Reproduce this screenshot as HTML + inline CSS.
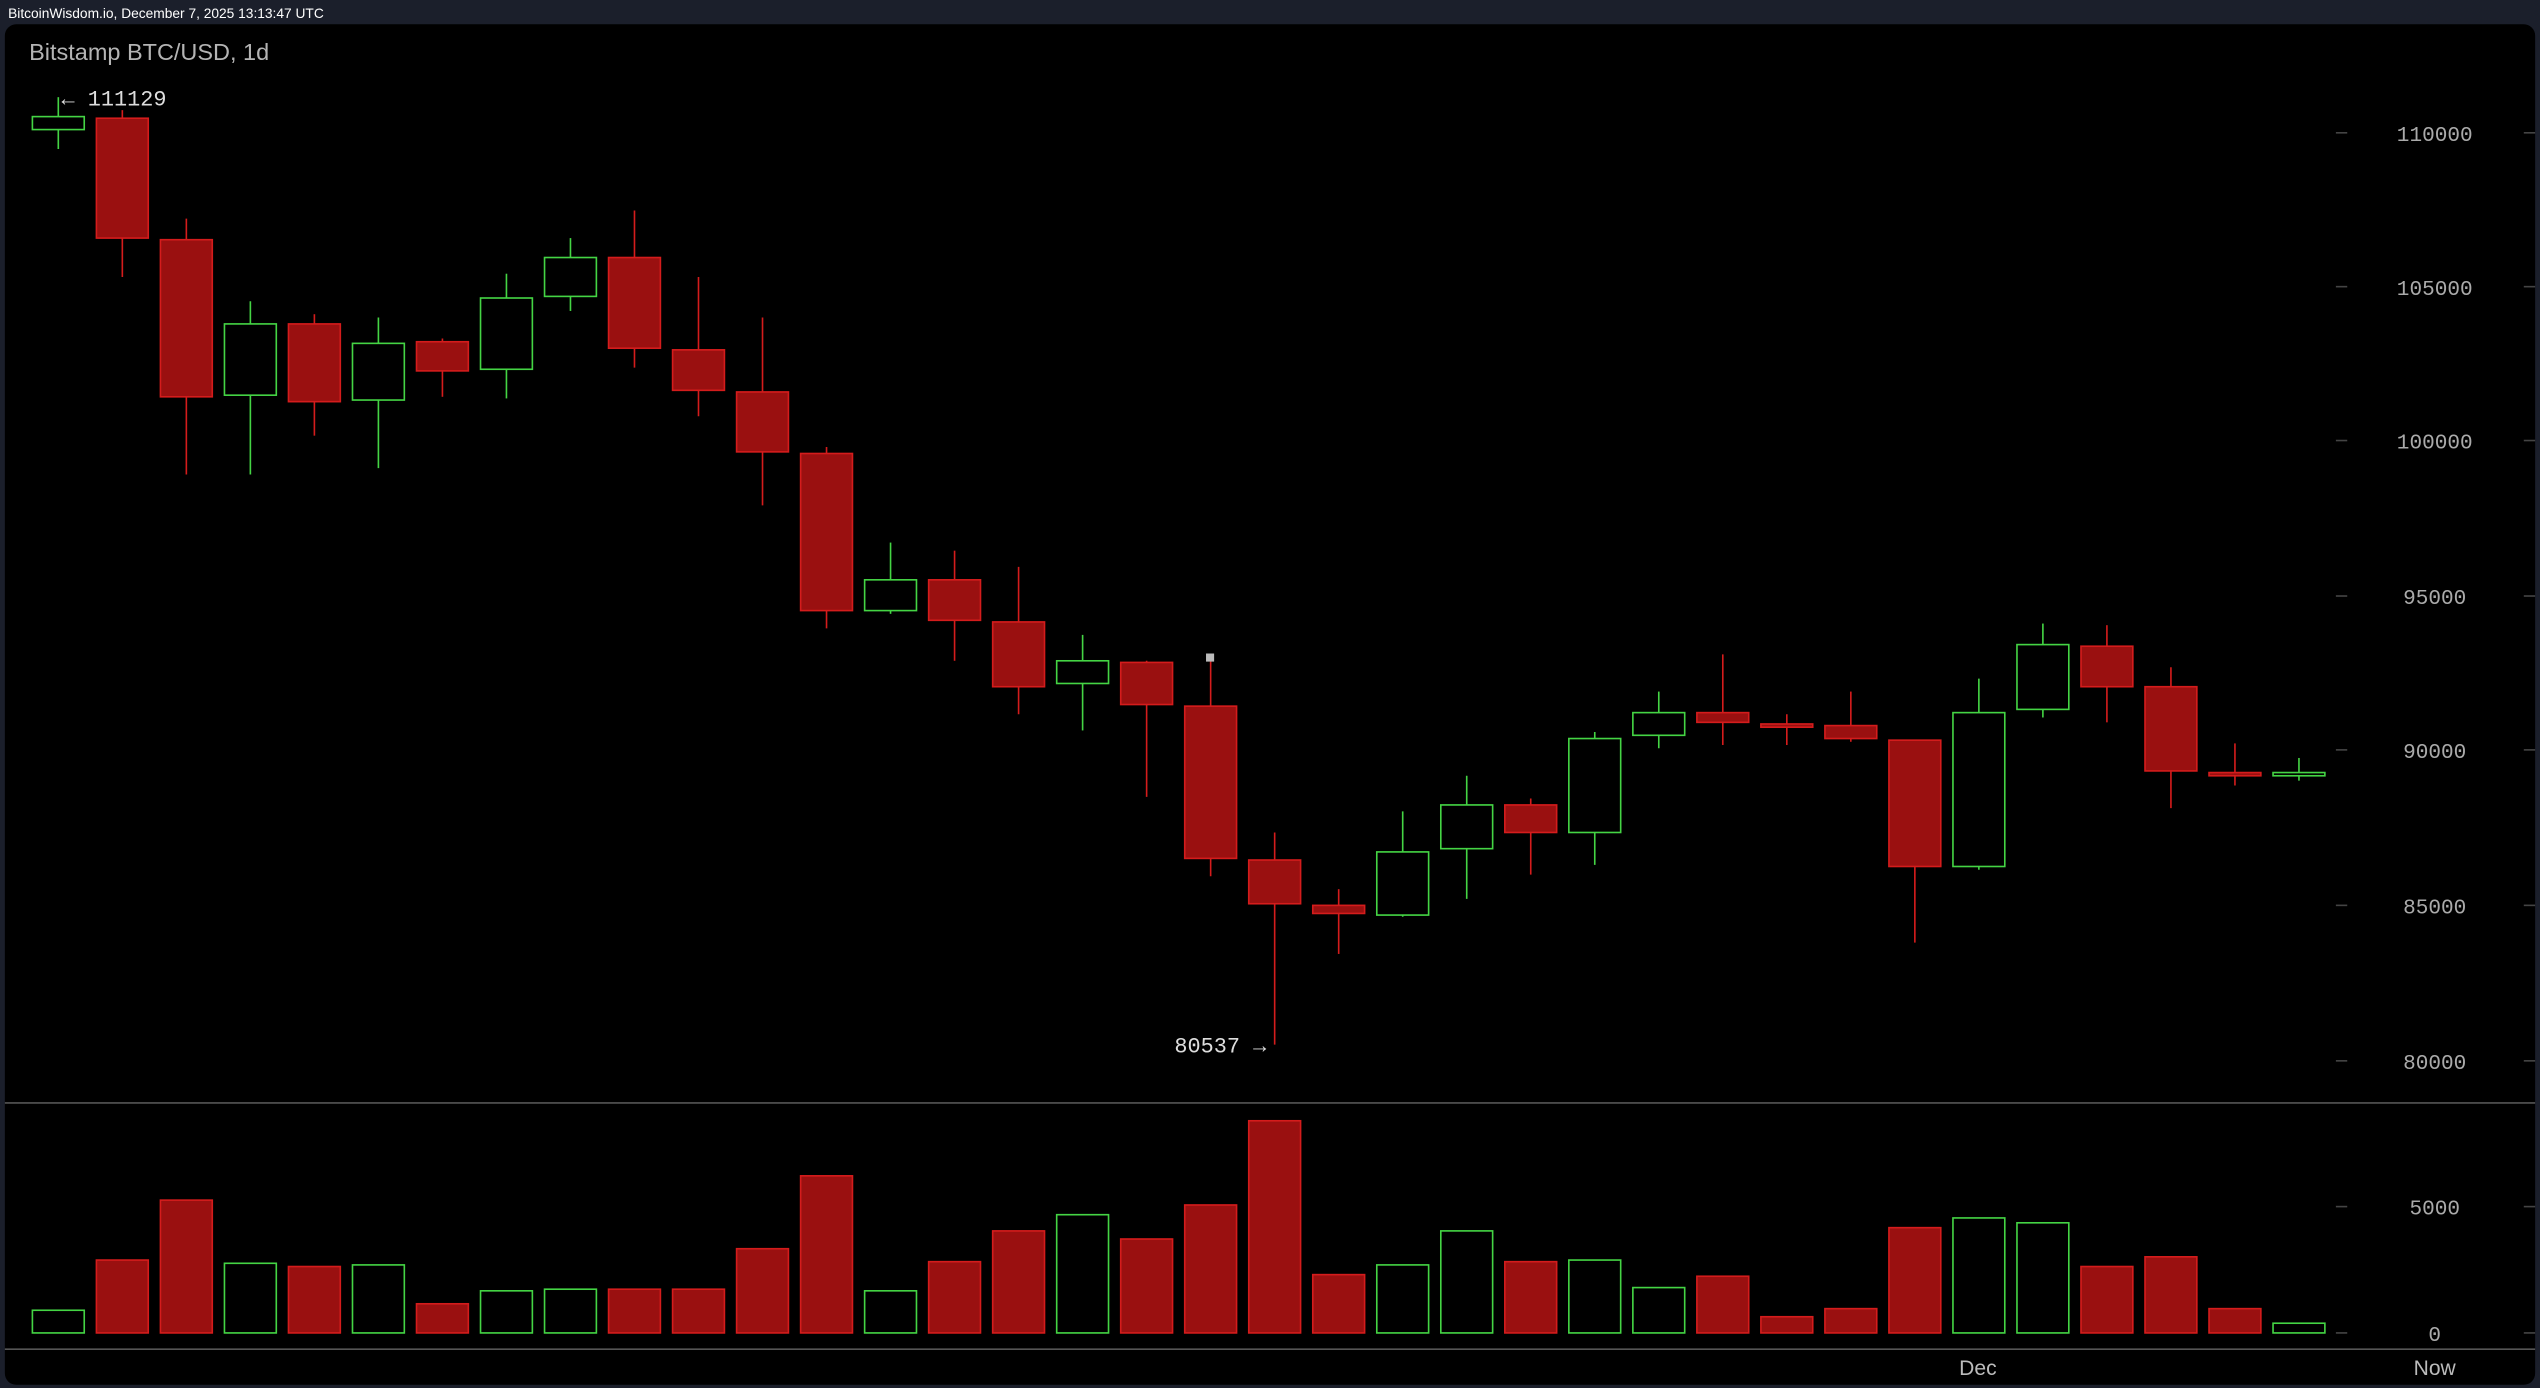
<!DOCTYPE html>
<html><head><meta charset="utf-8"><style>
html,body{margin:0;padding:0;background:#1b1f2b;width:2540px;height:1388px;overflow:hidden}
svg{display:block}
</style></head><body>
<svg id="s" width="2540" height="1388" viewBox="0 0 1568 857" preserveAspectRatio="none" xmlns="http://www.w3.org/2000/svg">
<rect x="0" y="0" width="1568" height="857" fill="#1b1f2b"/>
<text x="5" y="11" font-family="Liberation Sans, sans-serif" font-size="8.5" fill="#ffffff">BitcoinWisdom.io, December 7, 2025 13:13:47 UTC</text>
<rect x="3" y="15" width="1562" height="840" rx="7" fill="#000"/>
<text x="18" y="37" font-family="Liberation Sans, sans-serif" font-size="14.5" fill="#b4b4b4">Bitstamp BTC/USD, 1d</text>
<line x1="3" y1="681" x2="1565" y2="681" stroke="#555" stroke-width="1"/>
<line x1="3" y1="833" x2="1565" y2="833" stroke="#555" stroke-width="1"/>
<g id="g"></g>
<g font-family="Liberation Mono, DejaVu Sans Mono, monospace" font-size="13" fill="#aaa" text-anchor="middle">
<text x="1503" y="87">110000</text>
<text x="1503" y="182">105000</text>
<text x="1503" y="277">100000</text>
<text x="1503" y="373">95000</text>
<text x="1503" y="468">90000</text>
<text x="1503" y="564">85000</text>
<text x="1503" y="660">80000</text>
<text x="1503" y="750">5000</text>
<text x="1503" y="828">0</text>
</g>
<g font-family="Liberation Sans, sans-serif" font-size="13" fill="#bbb" text-anchor="middle">
<text x="1221" y="849">Dec</text>
<text x="1503" y="849">Now</text>
</g>
<g font-family="Liberation Mono, DejaVu Sans Mono, monospace" font-size="13.5" fill="#ddd">
<text x="38" y="65">← 111129</text>
<text x="725" y="650">80537 →</text>
</g>
<rect x="744.5" y="403.5" width="5" height="5" fill="#bbb"/>
</svg>
<script>
var C=[
['g',72,80,60,92],['r',73,147,68,171],['r',148,245,135,293],['g',200,244,186,293],['r',200,248,194,269],
['g',212,247,196,289],['r',211,229,209,245],['g',184,228,169,246],['g',159,183,147,192],['r',159,215,130,227],
['r',216,241,171,257],['r',242,279,196,312],['r',280,377,276,388],['g',358,377,335,379],['r',358,383,340,408],
['r',384,424,350,441],['g',408,422,392,451],['r',409,435,408,492],['r',436,530,407,541],['r',531,558,514,645],
['r',559,564,549,589],['g',526,565,501,566],['g',497,524,479,555],['r',497,514,493,540],['g',456,514,452,534],
['g',440,454,427,462],['r',440,446,404,460],['r',447,449,441,460],['r',448,456,427,458],['r',457,535,535,582],
['g',440,535,419,537],['g',398,438,385,443],['r',399,424,386,446],['r',424,476,412,499],['r',477,479,459,485],['g',477,479,468,482]];
var V=[809,778,741,780,782,781,805,797,796,796,796,771,726,797,779,760,750,765,744,692,787,781,760,779,778,795,788,813,808,758,752,755,782,776,808,817];
var h='';
// axis ticks
[82,177,272,368,463,559,655,745,823].forEach(function(y){h+='<line x1="1442" y1="'+y+'" x2="1449" y2="'+y+'" stroke="#444" stroke-width="1"/><line x1="1558" y1="'+y+'" x2="1565" y2="'+y+'" stroke="#444" stroke-width="1"/>';});
for(var i=0;i<C.length;i++){
 var c=C[i],x=36+i*39.52,g=c[0]=='g',st=g?'#44d444':'#d41c1c',fl=g?'#000':'#9a1010';
 h+='<line x1="'+x+'" y1="'+c[3]+'" x2="'+x+'" y2="'+c[4]+'" stroke="'+st+'" stroke-width="1"/>';
 h+='<rect x="'+(x-16)+'" y="'+c[1]+'" width="32" height="'+Math.max(1,c[2]-c[1])+'" fill="'+fl+'" stroke="'+st+'" stroke-width="1"/>';
 var v=V[i];
 h+='<rect x="'+(x-16)+'" y="'+v+'" width="32" height="'+(823-v)+'" fill="'+fl+'" stroke="'+st+'" stroke-width="1"/>';
}
document.getElementById('g').innerHTML=h;
</script>
</body></html>
